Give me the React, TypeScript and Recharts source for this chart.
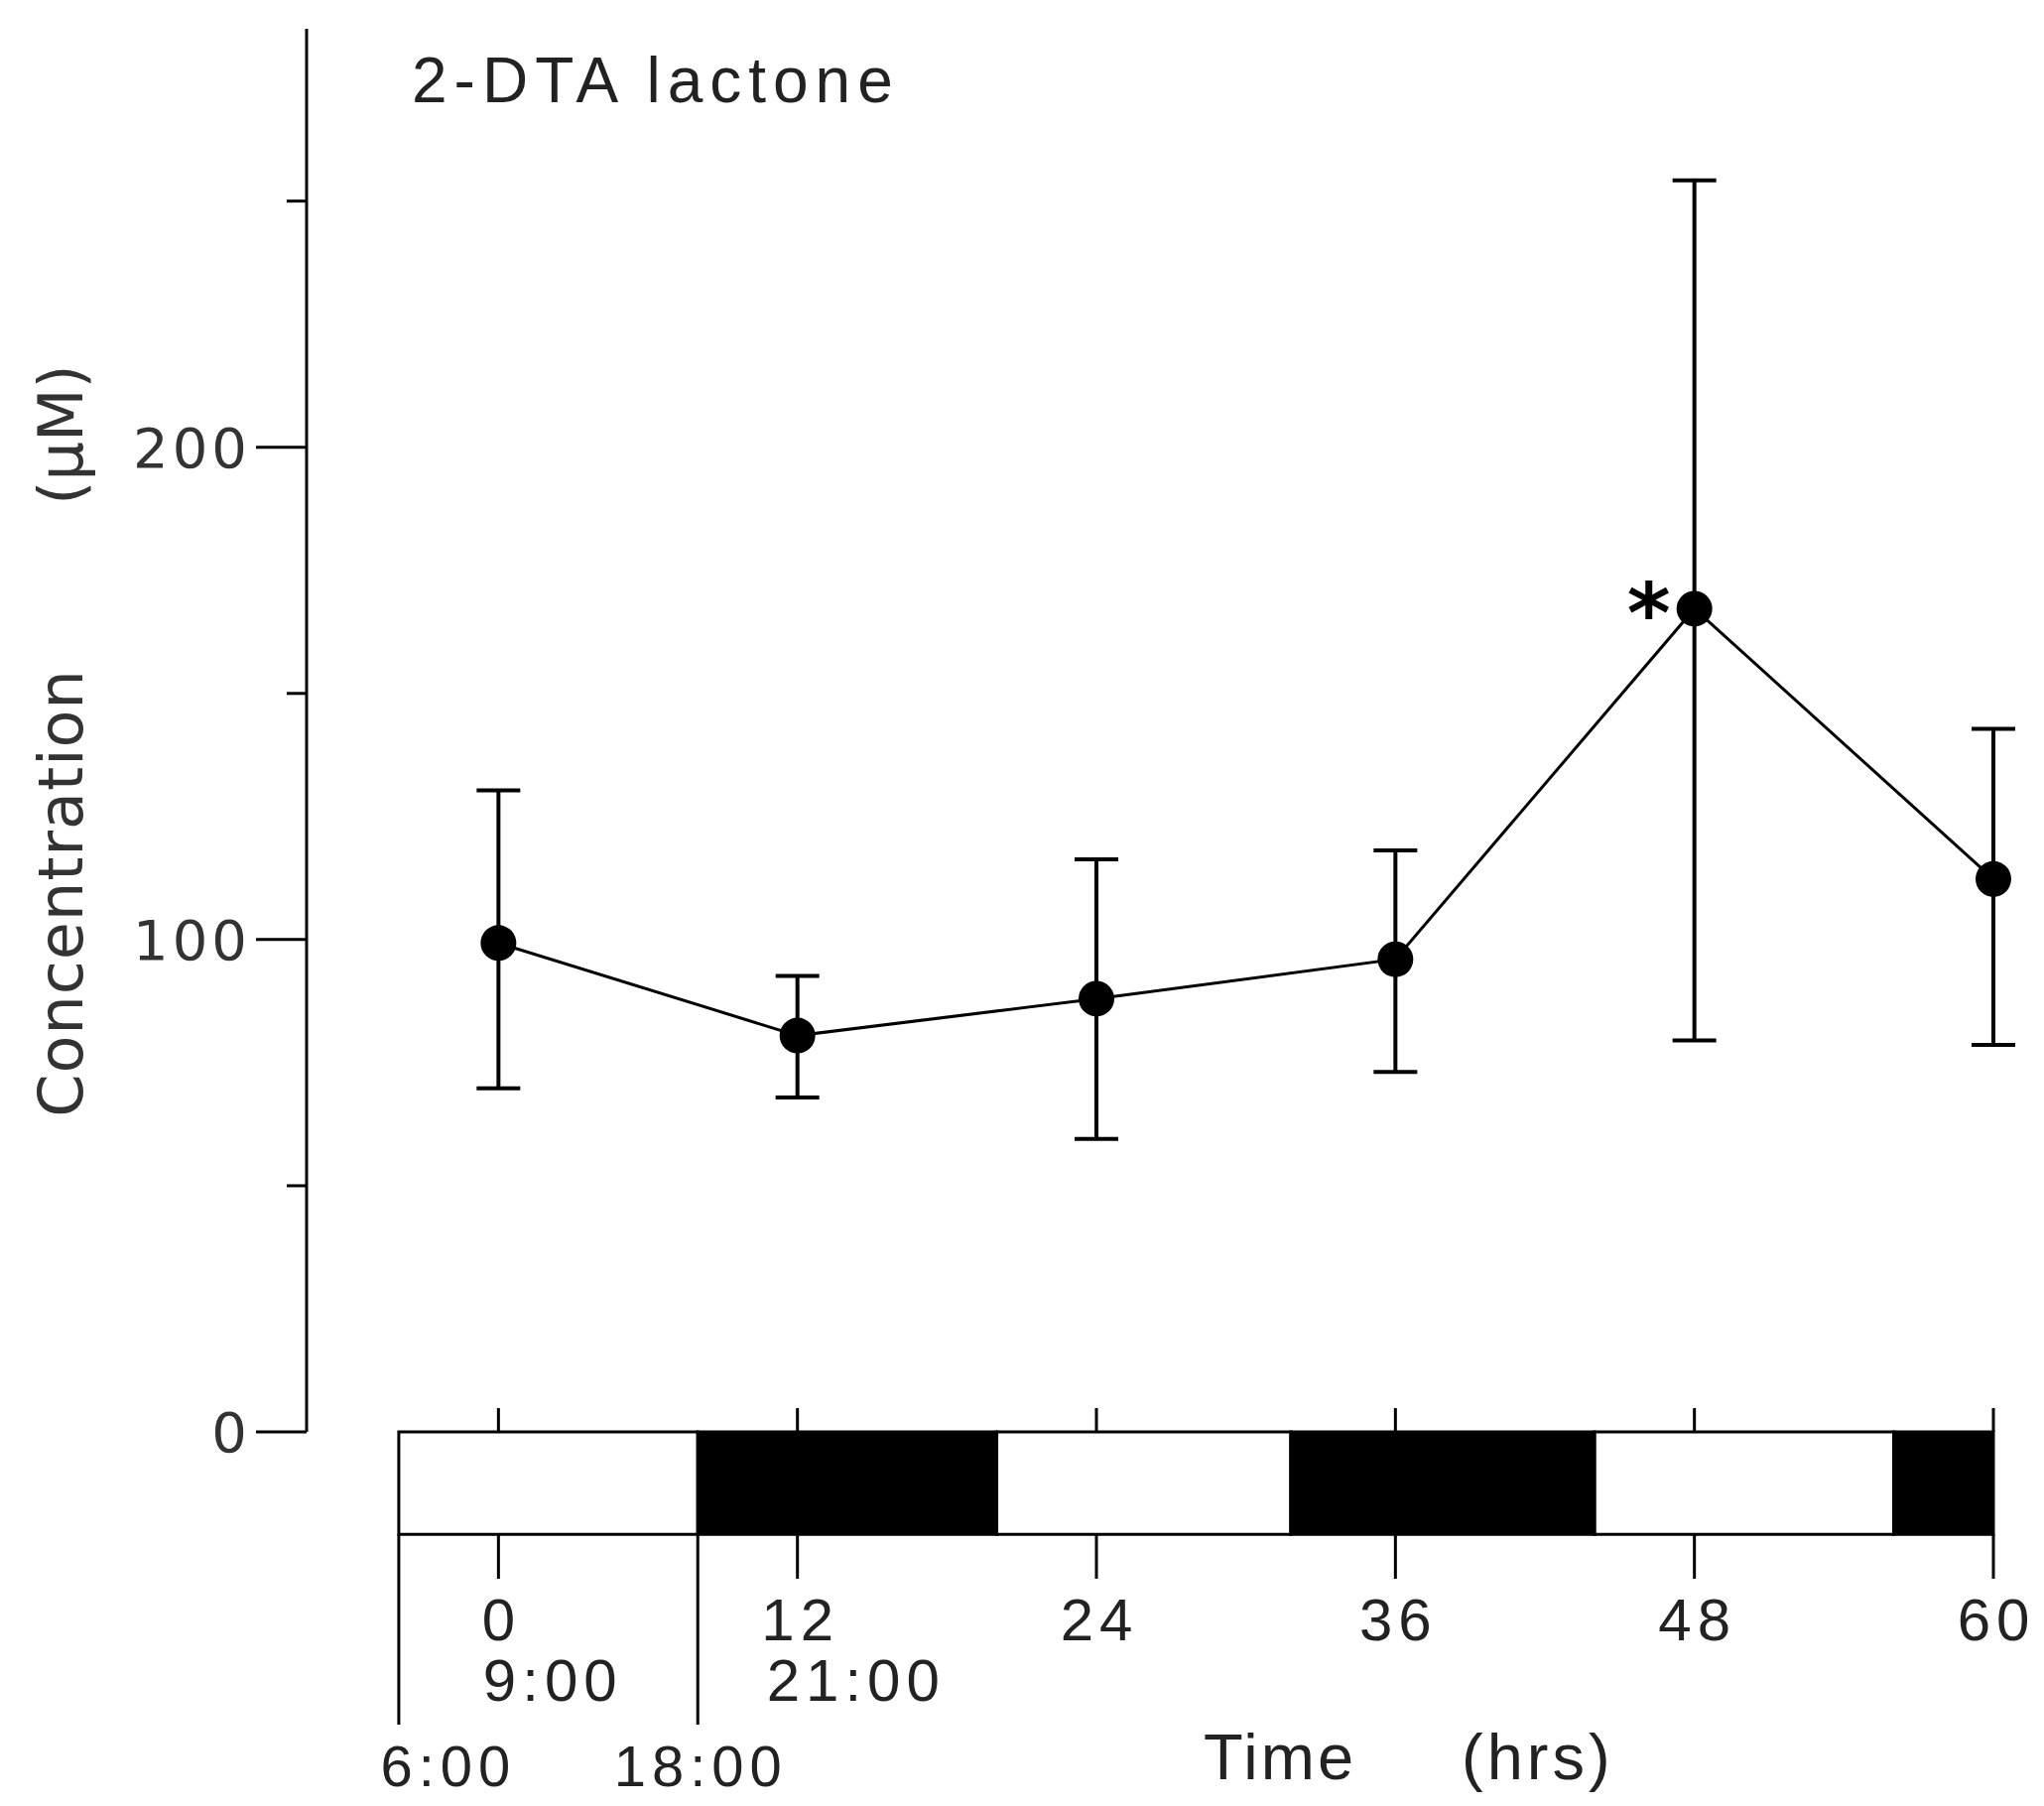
import React from 'react';
import { ComposedChart, Line, XAxis, YAxis, ErrorBar, ReferenceArea } from 'recharts';

// ---- data ----
const hours = [0, 12, 24, 36, 48, 60];
const meanConc = [99.3, 80.5, 88.0, 96.0, 167.2, 112.3];
const upperConc = [130.3, 92.6, 116.3, 118.1, 254.2, 142.8];
const lowerConc = [69.8, 67.9, 59.5, 73.1, 79.5, 78.6];
const significant = [false, false, false, false, true, false];

const hourTicks = [0, 12, 24, 36, 48, 60];
const hourTickLabels = ['0', '12', '24', '36', '48', '60'];
const clockTickLabels = ['9:00', '21:00', '', '', '', ''];

const lightChangeHours = [-4, 8];
const lightChangeLabels = ['6:00', '18:00'];

const periodStarts = [-4, 8, 20, 31.8, 44, 56];
const periodEnds = [8, 20, 31.8, 44, 56, 60];
const periodDark = [false, true, false, true, false, true];

const yTicks = [0, 50, 100, 150, 200, 250];
const yTickLabels = ['0', '', '100', '', '200', ''];

const title = '2-DTA lactone';
const yTitle = 'Concentration';
const yUnit = '(\u03bcM)';
const xTitle = 'Time';
const xUnit = '(hrs)';

// ---- layout ----
const W = 2060;
const H = 1820;
const X_DOMAIN: [number, number] = [-7.7, 60];
const Y_DOMAIN: [number, number] = [0, 285];
const BAR_BOTTOM = -20.8; // light/dark bar height in y units (below zero)
const FONT = "'Liberation Sans', Arial, sans-serif";
const WIDE = "'DejaVu Sans', sans-serif";

const chartData = hours.map((h, i) => ({
  hour: h,
  conc: meanConc[i],
  err: [meanConc[i] - lowerConc[i], upperConc[i] - meanConc[i]],
  sig: significant[i],
}));

const allXTicks = [...lightChangeHours, ...hourTicks].sort((a, b) => a - b);

const XTick = (props: any) => {
  const { x, y, payload } = props;
  const v = payload.value;
  const lc = lightChangeHours.indexOf(v);
  if (lc >= 0) {
    const dx = lc === 0 ? 50 : 3;
    return (
      <g>
        <line x1={x} x2={x} y1={y + 103} y2={y + 295} stroke="#000" strokeWidth={3} />
        <text x={x + dx} y={y + 357} textAnchor="middle" fontFamily={FONT} fontSize={58} letterSpacing={6} fill="#222">
          {lightChangeLabels[lc]}
        </text>
      </g>
    );
  }
  const i = hourTicks.indexOf(v);
  const lab = hourTickLabels[i];
  const clk = clockTickLabels[i];
  return (
    <g>
      <line x1={x} x2={x} y1={y - 24} y2={y} stroke="#000" strokeWidth={3} />
      <line x1={x} x2={x} y1={y + 103} y2={y + 148} stroke="#000" strokeWidth={3} />
      <text x={x + 3} y={y + 210} textAnchor="middle" fontFamily={FONT} fontSize={60} letterSpacing={6} fill="#222">
        {lab}
      </text>
      {clk ? (
        <text x={x - lab.length * 15.5} y={y + 271} textAnchor="start" fontFamily={FONT} fontSize={60} letterSpacing={6} fill="#222">
          {clk}
        </text>
      ) : null}
    </g>
  );
};

const YTick = (props: any) => {
  const { x, y, payload } = props;
  const i = yTicks.indexOf(payload.value);
  const lab = yTickLabels[i];
  const major = lab !== '';
  return (
    <g>
      <line x1={x - (major ? 51 : 20)} x2={x} y1={y} y2={y} stroke="#000" strokeWidth={3} />
      {major ? (
        <text x={x - 56} y={y + 20} textAnchor="end" fontFamily={WIDE} fontSize={56} letterSpacing={4} fill="#333">
          {lab}
        </text>
      ) : null}
    </g>
  );
};

const Dot = (props: any) => {
  const { cx, cy, payload } = props;
  if (cx == null || cy == null) return null;
  return (
    <g>
      <ellipse cx={cx} cy={cy} rx={18} ry={18} fill="#000" />
      {payload.sig ? (
        <text x={cx - 46} y={cy + 34} textAnchor="middle" fontFamily={WIDE} fontSize={84} fontWeight="bold" fill="#000">
          *
        </text>
      ) : null}
    </g>
  );
};

const YLabel = (props: any) => {
  const vb = props.viewBox || {};
  const bx = 83;
  const cy1 = 900;
  const cy2 = 438;
  return (
    <g>
      <text x={bx} y={cy1} transform={`rotate(-90 ${bx} ${cy1})`} textAnchor="middle" fontFamily={WIDE} fontSize={62} letterSpacing={1} fill="#333">
        {yTitle}
      </text>
      <text x={bx} y={cy2} transform={`rotate(-90 ${bx} ${cy2})`} textAnchor="middle" fontFamily={WIDE} fontSize={62} fill="#333">
        {yUnit}
      </text>
      <text x={(vb.x ?? 0) + (vb.width ?? 0) + 106} y={103} fontFamily={FONT} fontSize={64} letterSpacing={7} fill="#222">
        {title}
      </text>
    </g>
  );
};

const XLabel = (props: any) => {
  const vb = props.viewBox || {};
  const y = (vb.y ?? 0) + 350;
  const x0 = vb.x ?? 0;
  return (
    <g>
      <text x={x0 + 904} y={y} fontFamily={FONT} fontSize={65} letterSpacing={3} fill="#222">
        {xTitle}
      </text>
      <text x={x0 + 1164} y={y} fontFamily={FONT} fontSize={65} letterSpacing={4} fill="#222">
        {xUnit}
      </text>
    </g>
  );
};

export default function App() {
  return (
    <div style={{ position: 'absolute', left: 0, top: 0, width: W, height: H, background: '#fff' }}>
      <ComposedChart width={W} height={H} data={chartData} margin={{ top: 29, right: 51, bottom: 376, left: 0 }}>
        <XAxis
          dataKey="hour"
          type="number"
          domain={X_DOMAIN}
          ticks={allXTicks}
          interval={0}
          axisLine={false}
          tickLine={false}
          tickSize={0}
          tickMargin={0}
          height={1}
          tick={<XTick />}
          label={<XLabel />}
        />
        <YAxis
          type="number"
          domain={Y_DOMAIN}
          ticks={yTicks}
          interval={0}
          width={309}
          axisLine={{ stroke: '#000', strokeWidth: 3 }}
          tickLine={false}
          tickSize={0}
          tickMargin={0}
          tick={<YTick />}
          label={<YLabel />}
        />
        {periodStarts.map((s, i) => (
          <ReferenceArea
            key={i}
            x1={s}
            x2={periodEnds[i]}
            y1={BAR_BOTTOM}
            y2={0}
            ifOverflow="visible"
            fill={periodDark[i] ? '#000' : '#fff'}
            fillOpacity={1}
            stroke="#000"
            strokeWidth={3}
          />
        ))}
        <Line
          dataKey="conc"
          stroke="#000"
          strokeWidth={3}
          dot={<Dot />}
          activeDot={false}
          isAnimationActive={false}
        >
          <ErrorBar dataKey="err" width={22} stroke="#000" strokeWidth={4} direction="y" isAnimationActive={false} />
        </Line>
      </ComposedChart>
    </div>
  );
}
